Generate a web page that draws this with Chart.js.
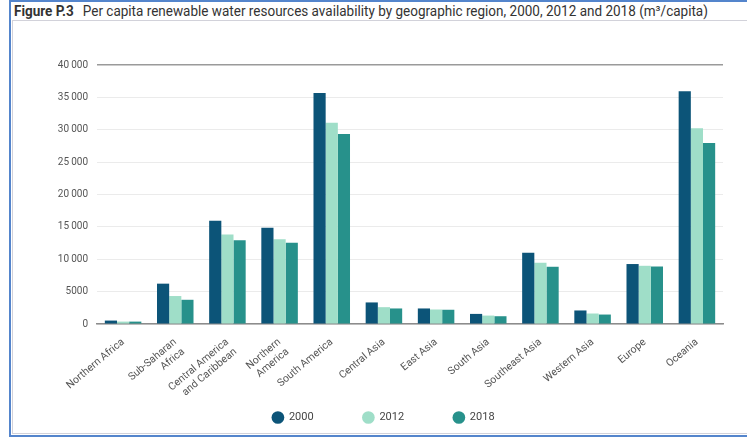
<!DOCTYPE html>
<html>
<head>
<meta charset="utf-8">
<script src="https://cdn.jsdelivr.net/npm/chart.js@4"></script>
<style>
  body { margin: 0; width: 747px; height: 440px; overflow: hidden; background: #fff; position: relative; font-family: Roboto, sans-serif; }
  #frame { position: absolute; left: 9px; top: 0; width: 760px; height: 433px; border: 2px solid #5485cc; }
  #inner { position: absolute; left: 12px; top: 20px; width: 760px; height: 412px; border: 1px solid #d2d2da; }
  #title { position: absolute; left: 14px; top: 3px; font-size: 14px; color: #333; white-space: nowrap; transform-origin: 0 0; transform: scaleX(0.965); }
  #title b { font-weight: bold; margin-right: 6px; }
  canvas { position: absolute; left: 0; top: 0; }
</style>
</head>
<body>
<div id="frame"></div>
<div id="inner"></div>
<div id="title"><b>Figure P.3</b> Per capita renewable water resources availability by geographic region, 2000, 2012 and 2018 (m³/capita)</div>
<canvas id="chart" width="747" height="440"></canvas>
<script>
const regions = [
    "Northern Africa", ["Sub-Saharan", "Africa"], ["Central America", "and Caribbean"], ["Northern", "America"],
    "South America", "Central Asia", "East Asia", "South Asia", "Southeast Asia", "Western Asia", "Europe", "Oceania"
]
const years = ["2000", "2012", "2018"]
const values2000 = [530, 6230, 15960, 14860, 35690, 3330, 2400, 1560, 11020, 2090, 9260, 35950]
const values2012 = [370, 4320, 13820, 13090, 31070, 2600, 2240, 1300, 9460, 1620, 8990, 30230]
const values2018 = [370, 3740, 12940, 12530, 29360, 2400, 2200, 1200, 8840, 1460, 8880, 27950]
const yTicks = [0, 5000, 10000, 15000, 20000, 25000, 30000, 35000, 40000]

const colors = ['#0c5478', '#9fdec8', '#27918b']

function formatTick(v) {
    if (v < 10000) return String(v)
    const s = String(v)
    return s.slice(0, s.length - 3) + '\u2009' + s.slice(-3)
}

const data = {
    labels: regions,
    datasets: [values2000, values2012, values2018].map((vals, i) => ({
        label: years[i],
        data: vals,
        backgroundColor: colors[i],
        borderWidth: 0,
        categoryPercentage: 0.7,
        barPercentage: 1.0
    }))
}

const ctx = document.getElementById('chart')

new Chart(ctx, {
    type: 'bar',
    data: data,
    options: {
        responsive: false,
        animation: false,
        devicePixelRatio: 1,
        layout: {
            padding: { left: 44, right: 24, top: 65, bottom: 7 }
        },
        plugins: {
            tooltip: { enabled: false },
            legend: {
                position: 'bottom',
                labels: {
                    usePointStyle: true,
                    pointStyle: 'circle',
                    boxWidth: 11,
                    boxHeight: 9,
                    padding: 10,
                    color: '#444',
                    font: { family: 'Roboto', size: 11 },
                    generateLabels: (chart) => {
                        const items = Chart.defaults.plugins.legend.labels.generateLabels(chart)
                        items.forEach((it, i) => {
                            if (i < items.length - 1) it.text = it.text + '\u2002'.repeat(7)
                        })
                        return items
                    }
                }
            }
        },
        scales: {
            x: {
                grid: { display: false },
                border: { display: true, color: '#8c8c8c', width: 1.5 },
                ticks: {
                    color: '#555',
                    font: { family: 'Roboto', size: 10.5 },
                    autoSkip: false,
                    minRotation: 40,
                    maxRotation: 40,
                    padding: 4
                },
                afterFit: (scale) => { scale.height = 78 }
            },
            y: {
                min: 0,
                max: 40000,
                afterBuildTicks: (scale) => { scale.ticks = yTicks.map(v => ({ value: v })) },
                border: { display: false },
                grid: {
                    drawTicks: false,
                    color: (c) => (c.tick && c.tick.value === 40000) ? '#9a9a9a' : '#ebebeb',
                    lineWidth: (c) => (c.tick && c.tick.value === 40000) ? 1.5 : 1
                },
                ticks: {
                    color: '#555',
                    padding: 9,
                    font: { family: 'Roboto', size: 10 },
                    callback: (v) => formatTick(v)
                },
                afterFit: (scale) => { scale.width = 53 }
            }
        }
    }
})
</script>
</body>
</html>
